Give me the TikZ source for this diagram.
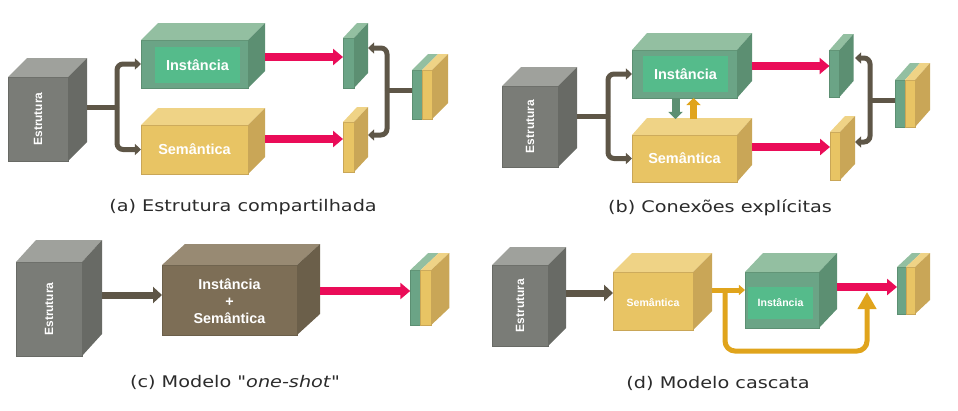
\documentclass[tikz,border=0pt]{standalone}
\usepackage{fontspec}
\usetikzlibrary{arrows.meta,positioning,calc}
\newfontfamily\rotfont{Liberation Sans}
\newfontfamily\legfont{DejaVu Sans}
\newlength{\pxu}
\setlength{\pxu}{0.025cm}
%Cores
\definecolor{cinzaF}{HTML}{7A7C77}
\definecolor{cinzaT}{HTML}{9FA19C}
\definecolor{cinzaL}{HTML}{686A65}
\definecolor{verdeF}{HTML}{6BA486}
\definecolor{verdeT}{HTML}{93BFA1}
\definecolor{verdeL}{HTML}{5C8F72}
\definecolor{verdeI}{HTML}{55BB8B}
\definecolor{amareloF}{HTML}{E8C464}
\definecolor{amareloT}{HTML}{EFD386}
\definecolor{amareloL}{HTML}{C9A657}
\definecolor{marromF}{HTML}{7D6E56}
\definecolor{marromT}{HTML}{988A73}
\definecolor{marromL}{HTML}{6B5F4A}
\definecolor{rosa}{HTML}{EA0C58}
\definecolor{linhaC}{HTML}{5E5647}
\definecolor{ouro}{HTML}{E0A41C}
\definecolor{textoLeg}{HTML}{2B2B2B}
\tikzset{
  face/.style={inner sep=0pt, outer sep=0pt, line width=0.4pt},
  linha/.style={line width=5\pxu, draw=linhaC},
  setaC/.style={linha, rounded corners=4.3pt, -{Triangle[length=4.3pt,width=7.8pt]}},
  setaG/.style={line width=7\pxu, draw=linhaC, -{Triangle[length=6.4pt,width=11.4pt]}},
  vermelha/.style={line width=8\pxu, draw=rosa, -{Triangle[length=7.1pt,width=11.4pt]}},
  rotulo/.style={text=white, font=\rotfont\bfseries\fontsize{10.3}{12}\selectfont},
  rotuloP/.style={text=white, font=\rotfont\bfseries\fontsize{7.5}{9}\selectfont},
  legenda/.style={text=textoLeg, font=\legfont\fontsize{11.4}{13}\selectfont, xscale=1.2}
}
%Caixa 3D: nome, centro, largura, altura, dx, dy, cor
\newcommand{\caixa}[7]{%
  \node[face, fill=#7F, draw=#7L, minimum width=#3\pxu, minimum height=#4\pxu] (#1) at #2 {};
  \fill[#7T] (#1.north west) -- ++(#5,-#6) -- ++(#3,0) -- (#1.north east) -- cycle;
  \fill[#7L] (#1.north east) -- ++(#5,-#6) -- ++(0,#4) -- (#1.south east) -- cycle;
}
%Camada de saida: nome, centro da parte verde, largura, altura, dx, dy
\newcommand{\camada}[6]{%
  \node[face, fill=verdeF, draw=verdeL, minimum width=#3\pxu, minimum height=#4\pxu] (#1v) at #2 {};
  \node[face, fill=amareloF, draw=amareloL, minimum width=#3\pxu, minimum height=#4\pxu, right=0pt of #1v] (#1a) {};
  \fill[verdeT] (#1v.north west) -- ++(#5,-#6) -- ++(#3,0) -- (#1v.north east) -- cycle;
  \fill[amareloT] (#1a.north west) -- ++(#5,-#6) -- ++(#3,0) -- (#1a.north east) -- cycle;
  \fill[amareloL] (#1a.north east) -- ++(#5,-#6) -- ++(0,#4) -- (#1a.south east) -- cycle;
}
\begin{document}
\begin{tikzpicture}[x=0.025cm, y=-0.025cm]
\useasboundingbox (0,0) rectangle (958,410);
	%(a) Estrutura compartilhada
\caixa{estA}{(38,119)}{60}{84}{19}{19}{cinza}
\caixa{instA}{(194.5,64)}{107}{48}{17}{17}{verde}
\caixa{semA}{(194.5,149.5)}{107}{49}{17}{17}{amarelo}
\caixa{gA}{(348.5,63)}{11}{50}{14}{15}{verde}
\caixa{yA}{(348.5,147)}{11}{50}{14}{15}{amarelo}
\camada{cA}{(417,94.5)}{10}{49}{16}{16}
\node[rotulo, rotate=90, font=\rotfont\bfseries\fontsize{8.5}{10}\selectfont] (estA-t) at (estA) {Estrutura};
\node[face, fill=verdeI, minimum width=85\pxu, minimum height=36\pxu, rotulo] (instA-t) at ($(instA)+(3,1)$) {Instância};
\node[rotulo] (semA-t) at (semA) {Semântica};
\coordinate (estA-s) at (87,107);
\coordinate (jA) at (117,107);
\draw[linha] (estA-s) -- (jA);
\draw[setaC] (jA) |- (instA.west);
\draw[setaC] (jA) |- (semA.west);
\coordinate (instA-s) at (265,57);
\coordinate (semA-s) at (265,139);
\draw[vermelha] (instA-s) -- (instA-s -| gA.west);
\draw[vermelha] (semA-s) -- (semA-s -| yA.west);
\coordinate (jA2) at (387,90);
\coordinate (gA-s) at (368,48);
\coordinate (yA-s) at (368,135);
\draw[linha] (cAv.west |- jA2) -- (jA2);
\draw[setaC] (jA2) |- (gA-s);
\draw[setaC] (jA2) |- (yA-s);
\node[legenda] (legA) at (243,207) {(a) Estrutura compartilhada};
	%(b) Conexoes explicitas
\caixa{estB}{(530,126.5)}{56}{81}{19}{19}{cinza}
\caixa{instB}{(684.5,74)}{105}{48}{15}{17}{verde}
\caixa{semB}{(684.5,158.5)}{105}{47}{15}{17}{amarelo}
\caixa{gB}{(834.5,73.5)}{10}{47}{14}{16}{verde}
\caixa{yB}{(835,156)}{10}{48}{15}{16}{amarelo}
\camada{cB}{(900,103.5)}{10}{47}{15}{17}
\node[rotulo, rotate=90, font=\rotfont\bfseries\fontsize{8.5}{10}\selectfont] (estB-t) at (estB) {Estrutura};
\node[face, fill=verdeI, minimum width=85\pxu, minimum height=36\pxu, rotulo] (instB-t) at ($(instB)+(1,0)$) {Instância};
\node[rotulo] (semB-t) at (semB) {Semântica};
\coordinate (estB-s) at (577,116);
\coordinate (jB) at (608,116);
\draw[linha] (estB-s) -- (jB);
\draw[setaC] (jB) |- (instB.west);
\draw[setaC] (jB) |- (semB.west);
\draw[line width=8\pxu, draw=verdeL, -{Triangle[length=5pt,width=10pt]}] ([xshift=-9\pxu]instB.south) -- ([xshift=-9\pxu, yshift=16\pxu]semB.north);
\draw[line width=7\pxu, draw=ouro, -{Triangle[length=5pt,width=10pt]}] ([xshift=9\pxu, yshift=16\pxu]semB.north) -- ([xshift=9\pxu]instB.south);
\coordinate (instB-s) at (752,66);
\coordinate (semB-s) at (752,147);
\draw[vermelha] (instB-s) -- (instB-s -| gB.west);
\draw[vermelha] (semB-s) -- (semB-s -| yB.west);
\coordinate (jB2) at (870,100);
\coordinate (gB-s) at (855,58);
\coordinate (yB-s) at (855,142);
\draw[linha] (cBv.west |- jB2) -- (jB2);
\draw[setaC] (jB2) |- (gB-s);
\draw[setaC] (jB2) |- (yB-s);
\node[legenda] (legB) at (720,208) {(b) Conexões explícitas};
	%(c) Modelo one-shot
\caixa{estC}{(49,309)}{66}{94}{20}{22}{cinza}
\caixa{modC}{(229.5,300)}{135}{70}{23}{21}{marrom}
\camada{cC}{(415.5,297.5)}{10.5}{55}{18}{17}
\node[rotulo, rotate=90, font=\rotfont\bfseries\fontsize{8.5}{10}\selectfont] (estC-t) at (estC) {Estrutura};
\node[rotulo, align=center, font=\rotfont\bfseries\fontsize{10.2}{12.2}\selectfont] (modC-t) at ($(modC)+(0,1)$) {Instância\\+\\Semântica};
\coordinate (estC-s) at (102,295);
\draw[setaG] (estC-s) -- (estC-s -| modC.west);
\coordinate (modC-s) at (320,291);
\draw[vermelha] (modC-s) -- (modC-s -| cCv.west);
\node[legenda] (legC) at (235,382) {(c) Modelo "\textit{one-shot}"};
	%(d) Modelo cascata
\caixa{estD}{(520,305.5)}{56}{81}{18}{18}{cinza}
\caixa{semD}{(653,301)}{80}{58}{19}{19}{amarelo}
\caixa{instD}{(782,300)}{74}{56}{18}{19}{verde}
\camada{cD}{(901.5,290.5)}{9}{47}{15}{14}
\node[rotulo, rotate=90, font=\rotfont\bfseries\fontsize{8.5}{10}\selectfont] (estD-t) at (estD) {Estrutura};
\node[rotuloP] (semD-t) at ($(semD)+(0,2)$) {Semântica};
\node[face, fill=verdeI, minimum width=65\pxu, minimum height=32\pxu, rotuloP] (instD-t) at ($(instD)+(-1.5,3)$) {Instância};
\coordinate (estD-s) at (566,293);
\draw[setaG] (estD-s) -- (estD-s -| semD.west);
\coordinate (semD-s) at (712,290);
\coordinate (jD) at (725,290);
\coordinate (baseD) at (725,351);
\coordinate (vermD-j) at (867,292);
\draw[line width=5\pxu, draw=ouro, rounded corners=7.1pt, -{Triangle[length=12.1pt,width=12.8pt]}] (jD) -- (baseD) -| (vermD-j);
\draw[line width=5\pxu, draw=ouro, -{Triangle[length=4.3pt,width=7.1pt]}] (semD-s) -- (semD-s -| instD.west);
\coordinate (instD-s) at (837,287);
\draw[vermelha] (instD-s) -- (instD-s -| cDv.west);
\node[legenda] (legD) at (718,383) {(d) Modelo cascata};
\end{tikzpicture}
\end{document}
